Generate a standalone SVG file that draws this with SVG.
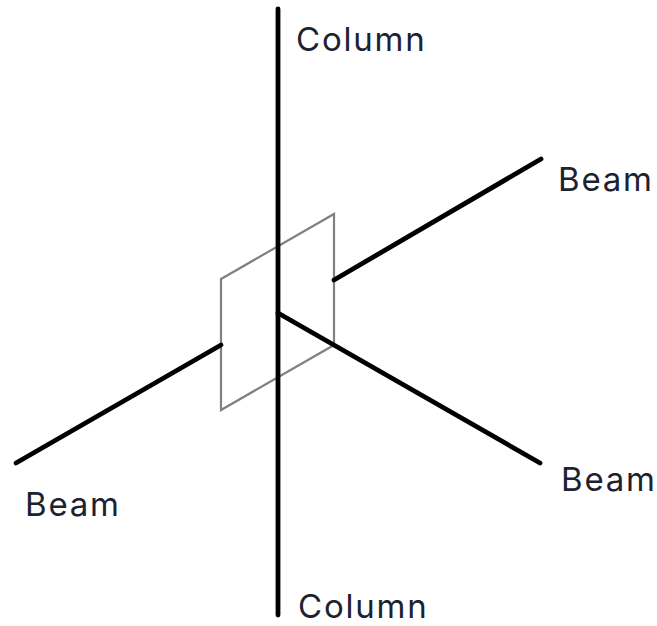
<svg xmlns="http://www.w3.org/2000/svg" width="657" height="626" viewBox="0 0 657 626">
<style>
.m{stroke:#000;stroke-width:4.8;fill:none;stroke-linecap:round}
.p{stroke:#808080;stroke-width:2.2;fill:none}
text{font-family:Inter,"Open Sans",sans-serif;font-size:33px;letter-spacing:1.8px;fill:#1c2230}
</style>
<rect width="657" height="626" fill="#fff"/>
<g id="panel"><path class="p" d="M221 279L334 214V345L221 410Z"/></g>
<g id="connectors">
<path class="m" d="M278 9V615"/>
<path class="m" d="M334 280L541 159"/>
<path class="m" d="M16 463L221 345"/>
<path class="m" d="M278 313L540 463"/>
</g>
<g id="labels">
<text x="296" y="51">Column</text>
<text x="558" y="191">Beam</text>
<text x="561" y="491">Beam</text>
<text x="25" y="516">Beam</text>
<text x="298" y="618">Column</text>
</g>
</svg>
